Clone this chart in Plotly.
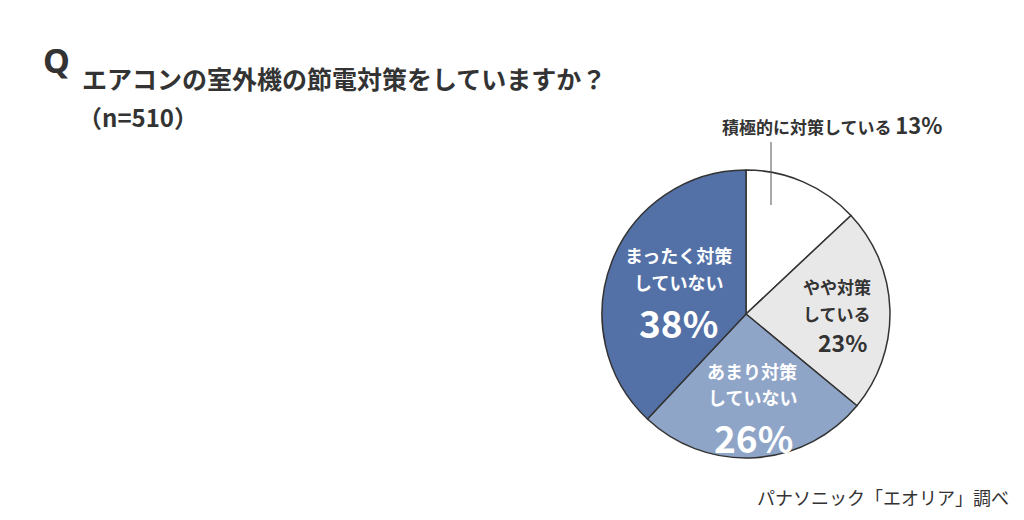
import plotly.graph_objects as go

# survey answers, clockwise from 12 o'clock
labels = ["積極的に対策している", "やや対策している", "あまり対策していない", "まったく対策していない"]
values = [13, 23, 26, 38]
colors = ["#ffffff", "#e8e8e8", "#8fa5c8", "#5371a7"]

title = "エアコンの室外機の節電対策をしていますか？"
sample = "（n=510）"
source = "パナソニック「エオリア」調べ"

FONT = "Noto Sans CJK JP"
DARK = "#333333"

# the page body adds an 8px margin, so the figure is a bit smaller and
# every reference pixel position is shifted by that offset
OFF = 8
W, H = 1024 - 2 * OFF, 520 - 2 * OFF

# pie placement in reference pixels
cx, cy, r = 746, 314, 144


def px_x(x):
    return (x - OFF) / W


def px_y(y):
    return 1 - (y - OFF) / H


fig = go.Figure()
fig.add_trace(
    go.Pie(
        labels=labels,
        values=values,
        sort=False,
        direction="clockwise",
        rotation=0,
        marker=dict(colors=colors, line=dict(color="#333333", width=1.5)),
        textinfo="none",
        hoverinfo="label+percent",
        showlegend=False,
        domain=dict(
            x=[px_x(cx - r), px_x(cx + r)],
            y=[px_y(cy + r), px_y(cy - r)],
        ),
    )
)


def note(x, y, text, size, color=DARK, weight="bold", xanchor="center", family=FONT):
    fig.add_annotation(
        x=px_x(x), y=px_y(y), xref="paper", yref="paper",
        text=text, showarrow=False, xanchor=xanchor, yanchor="middle",
        font=dict(family=family, size=size, color=color, weight=weight),
    )


# title block
note(41, 60, "Q", 34, xanchor="left", family="Noto Sans")
note(80, 78, title, 25, xanchor="left")
note(76, 116, sample, 24, xanchor="left")

# slice labels
note(832, 124, labels[0] + " <span style='font-size:22px'>%d%%</span>" % values[0], 17)

note(837, 286, "やや対策", 17)
note(837, 313, "している", 17)
note(842, 342, "%d%%" % values[1], 23)

note(752, 371, "あまり対策", 18, color="#ffffff")
note(752, 397, "していない", 18, color="#ffffff")
note(753, 437, "%d%%" % values[2], 37, color="#ffffff")

note(678, 255, "まったく対策", 18, color="#ffffff")
note(678, 282, "していない", 18, color="#ffffff")
note(678, 322, "%d%%" % values[3], 37, color="#ffffff")

note(1011, 497, source, 18, weight="normal", xanchor="right")

# leader line for the small slice
fig.add_shape(
    type="line", xref="paper", yref="paper",
    x0=px_x(771), x1=px_x(771), y0=px_y(142), y1=px_y(205),
    line=dict(color="#555555", width=1),
)

fig.update_layout(
    width=W,
    height=H,
    margin=dict(l=0, r=0, t=0, b=0),
    paper_bgcolor="#ffffff",
    plot_bgcolor="#ffffff",
    font=dict(family=FONT, color=DARK),
)

fig.write_html("out.html")
